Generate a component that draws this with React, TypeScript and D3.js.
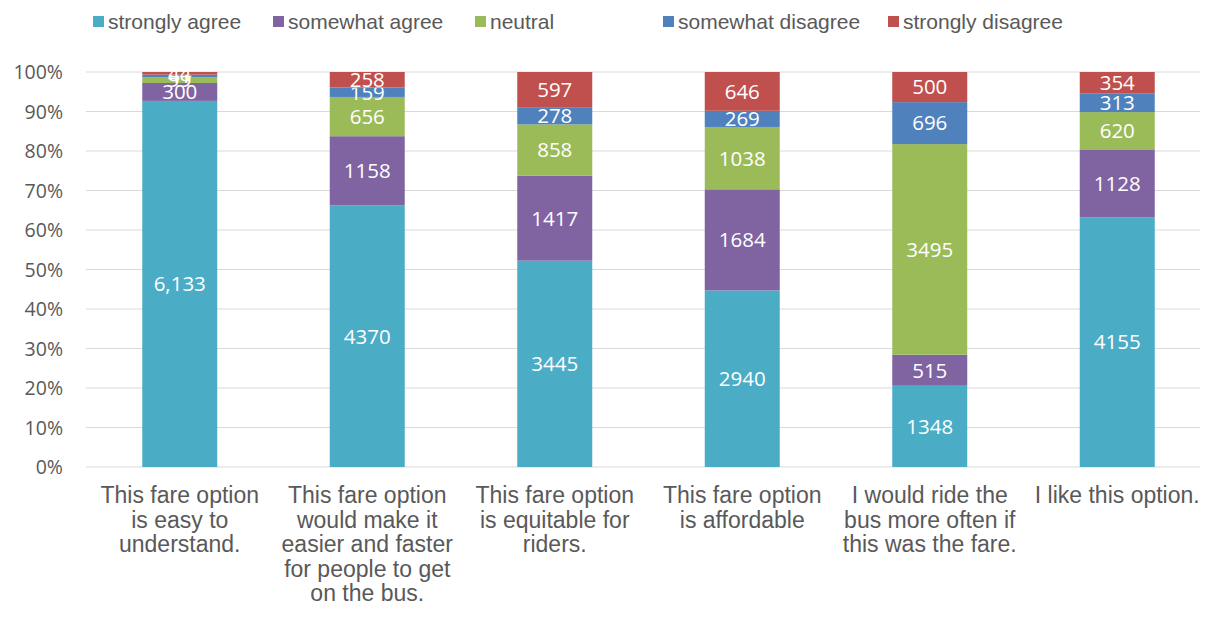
import React from "react";
import * as d3 from "d3";

const categories: string[][] = [
  ["This fare option", "is easy to", "understand."],
  ["This fare option", "would make it", "easier and faster", "for people to get", "on the bus."],
  ["This fare option", "is equitable for", "riders."],
  ["This fare option", "is affordable"],
  ["I would ride the", "bus more often if", "this was the fare."],
  ["I like this option."],
];

const seriesNames = ["strongly agree", "somewhat agree", "neutral", "somewhat disagree", "strongly disagree"];
const seriesColors = ["#4BACC6", "#8064A2", "#9BBB59", "#4F81BD", "#C0504D"];

const stronglyAgree = [6133, 4370, 3445, 2940, 1348, 4155];
const somewhatAgree = [300, 1158, 1417, 1684, 515, 1128];
const neutral = [99, 656, 858, 1038, 3495, 620];
const somewhatDisagree = [41, 159, 278, 269, 696, 313];
const stronglyDisagree = [44, 258, 597, 646, 500, 354];

const yTicks = [0, 0.1, 0.2, 0.3, 0.4, 0.5, 0.6, 0.7, 0.8, 0.9, 1.0];

const W = 1209, H = 619;
const M = { left: 86, right: 1211, top: 72, bottom: 467 };

export default function App() {
  const series = [stronglyAgree, somewhatAgree, neutral, somewhatDisagree, stronglyDisagree];
  const idx = categories.map((_, i) => i);
  const x = d3.scaleBand<number>().domain(idx).range([M.left, M.right]).paddingInner(0.6).paddingOuter(0.3);
  const y = d3.scaleLinear().domain([0, 1]).range([M.bottom, M.top]);
  const fmt = (v: number, i: number, s: number) => (s === 0 && i === 0 ? d3.format(",")(v) : String(v));

  const legendX = [93, 273, 475, 663, 888];

  return (
    <svg width={W} height={H} style={{ position: "absolute", left: 0, top: 0, background: "#fff" }}>
      {yTicks.map((t) => (
        <g key={t}>
          <line x1={M.left} x2={1200} y1={y(t)} y2={y(t)} stroke="#d9d9d9" strokeWidth={1} />
          <text x={63} y={y(t)} dy="0.36em" textAnchor="end" fontFamily="Open Sans, sans-serif" fontSize={19.5} fill="#595959">
            {d3.format(".0%")(t)}
          </text>
        </g>
      ))}
      {idx.map((i) => {
        const total = d3.sum(series, (s) => s[i]);
        let acc = 0;
        return (
          <g key={i}>
            {series.map((s, k) => {
              const v = s[i];
              const y0 = y(acc / total);
              acc += v;
              const y1 = y(acc / total);
              return (
                <g key={k}>
                  <rect x={x(i)!} width={x.bandwidth()} y={y1} height={y0 - y1} fill={seriesColors[k]} />
                  <text x={x(i)! + x.bandwidth() / 2} y={(y0 + y1) / 2} dy="0.36em" textAnchor="middle" fill="#fff"
                    fontFamily="Open Sans, sans-serif" fontSize={20.5}>
                    {fmt(v, i, k)}
                  </text>
                </g>
              );
            })}
            {categories[i].map((line, j) => (
              <text key={j} x={x(i)! + x.bandwidth() / 2} y={503 + j * 24.5} textAnchor="middle"
                fontFamily="Liberation Sans, Arial, sans-serif" fontSize={23} fill="#595959">
                {line}
              </text>
            ))}
          </g>
        );
      })}
      {seriesNames.map((n, k) => (
        <g key={n}>
          <rect x={legendX[k]} y={16} width={11} height={11} fill={seriesColors[k]} />
          <text x={legendX[k] + 15} y={21.5} dy="0.35em" fontFamily="Liberation Sans, Arial, sans-serif" fontSize={21} fill="#595959">
            {n}
          </text>
        </g>
      ))}
    </svg>
  );
}
